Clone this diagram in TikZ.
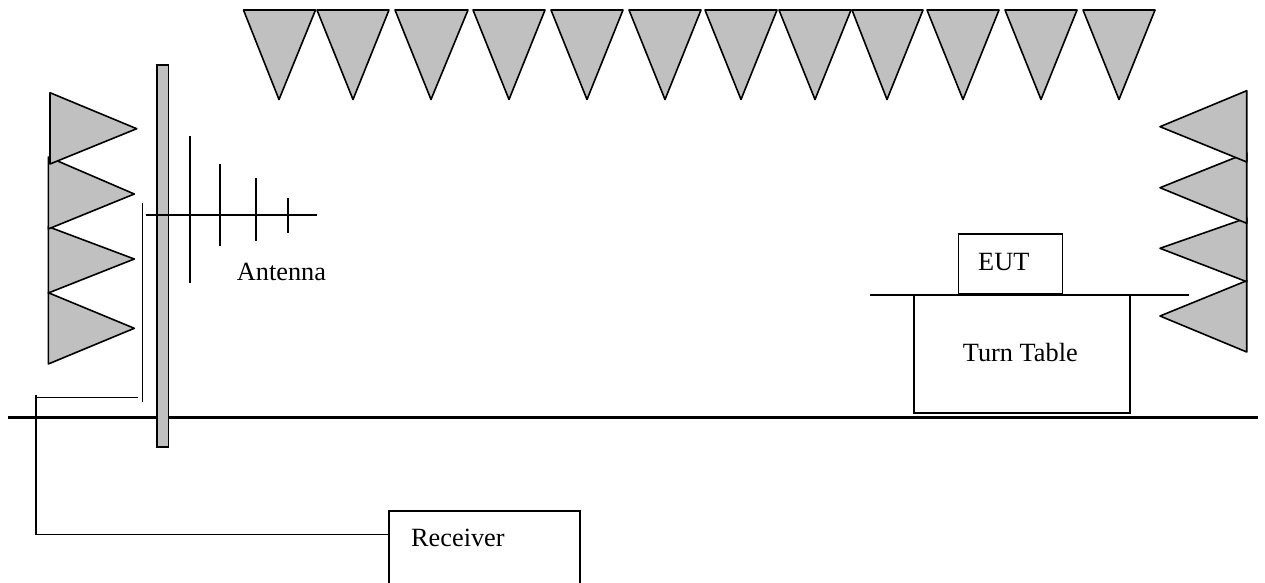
\documentclass[tikz,border=0pt]{standalone}
\usepackage{fontspec}
\setmainfont{Liberation Serif}
\definecolor{absorber}{HTML}{C0C0C0}
\tikzset{
  wedge/.style={draw=black,fill=absorber,line width=1.6pt,line join=round},
  wire/.style={draw=black,line width=1.6pt},
  box/.style={draw=black,fill=white,line width=1.6pt,inner sep=0pt,outer sep=0pt},
  label/.style={inner sep=0pt,font=\fontsize{26.3}{26.3}\selectfont,anchor=base west},
}
\begin{document}
\begin{tikzpicture}[x=1pt,y=-1pt]
\useasboundingbox (0,0) rectangle (1265,582);
% ceiling absorbers
\foreach \l/\r/\a in {243.5/315.5/279,317/389/353,395/468/431,473/545/509,551/623/587,629/701/665,705/777/741,779/851/815,852/923/887,927/999/963,1005/1077/1041,1083/1155/1119}
  \draw[wedge] (\l,10) -- (\r,10) -- (\a,99.5) -- cycle;
% left absorbers
\draw[wedge] (48.3,292.7) -- (134.3,328.3) -- (48.3,364) -- cycle;
\draw[wedge] (48.3,226.7) -- (134.3,259) -- (48.3,293) -- cycle;
\draw[wedge] (48.3,157) -- (134.3,194) -- (48.3,229) -- cycle;
\draw[wedge] (50,92.7) -- (136.7,128.7) -- (50,164) -- cycle;
% right absorbers
\draw[wedge] (1246.7,280.7) -- (1160,316) -- (1246.7,352) -- cycle;
\draw[wedge] (1246.7,218) -- (1160,248.3) -- (1246.7,281.7) -- cycle;
\draw[wedge] (1246.7,153) -- (1160,187.7) -- (1246.7,223.3) -- cycle;
\draw[wedge] (1246.7,90.7) -- (1160,126.7) -- (1246.7,162) -- cycle;
% ground plane
\coordinate (groundL) at (8,417.5);
\coordinate (groundR) at (1258,417.5);
\draw[black,line width=3.4pt] (groundL) -- (groundR);
% turn table, table top and EUT
\node[box,minimum width=216pt,minimum height=117.7pt] (turn) at (1022,353.85) {};
\node[box,minimum width=104pt,minimum height=59.3pt] (eut) at (1010.3,263.65) {};
\coordinate (topL) at (870,295);
\coordinate (topR) at (1188.7,295);
\draw[wire] (topL) -- (topR);
\node[label] (eutT) at (978,270) {EUT};
\node[label] (turnT) at (962.7,361.7) {Turn Table};
% mast
\node[draw=black,fill=absorber,line width=1.6pt,inner sep=0pt,outer sep=0pt,minimum width=11.6pt,minimum height=382pt] (mast) at (162.5,256) {};
% antenna
\coordinate (boomL) at (145.5,214.7);
\coordinate (boomR) at (316.7,214.7);
\draw[wire] (boomL) -- (boomR);
\coordinate (e1a) at (190,136); \coordinate (e1b) at (190,283);
\coordinate (e2a) at (220,164); \coordinate (e2b) at (220,245.7);
\coordinate (e3a) at (256,178); \coordinate (e3b) at (256,241);
\coordinate (e4a) at (288,198.3); \coordinate (e4b) at (288,233.3);
\draw[wire] (e1a) -- (e1b);
\draw[wire] (e2a) -- (e2b);
\draw[wire] (e3a) -- (e3b);
\draw[wire] (e4a) -- (e4b);
\coordinate (backA) at (142.3,203.3);
\coordinate (backB) at (142.3,401.7);
\draw[wire] (backA) -- (backB);
\node[label] (antT) at (236.7,280.7) {Antenna};
% receiver box, running off the page
\coordinate (rxBL) at (389,583);
\coordinate (rxTL) at (389,510.7);
\coordinate (rxTR) at (580,510.7);
\coordinate (rxBR) at (580,583);
\coordinate (rxIn) at (389,534.3);
\draw[wire] (rxBL) -- (rxTL) -- (rxTR) -- (rxBR);
\node[label] (rxT) at (411,546.7) {Receiver};
% cable
\coordinate (cableTop) at (35.7,395);
\coordinate (cableBend) at (35.7,534.3);
\coordinate (feedEnd) at (138.3,397.3);
\coordinate (feedStart) at (35.7,397.3);
\draw[wire] (cableTop) -- (cableBend) -- (rxIn);
\draw[wire] (feedStart) -- (feedEnd);
\end{tikzpicture}
\end{document}
